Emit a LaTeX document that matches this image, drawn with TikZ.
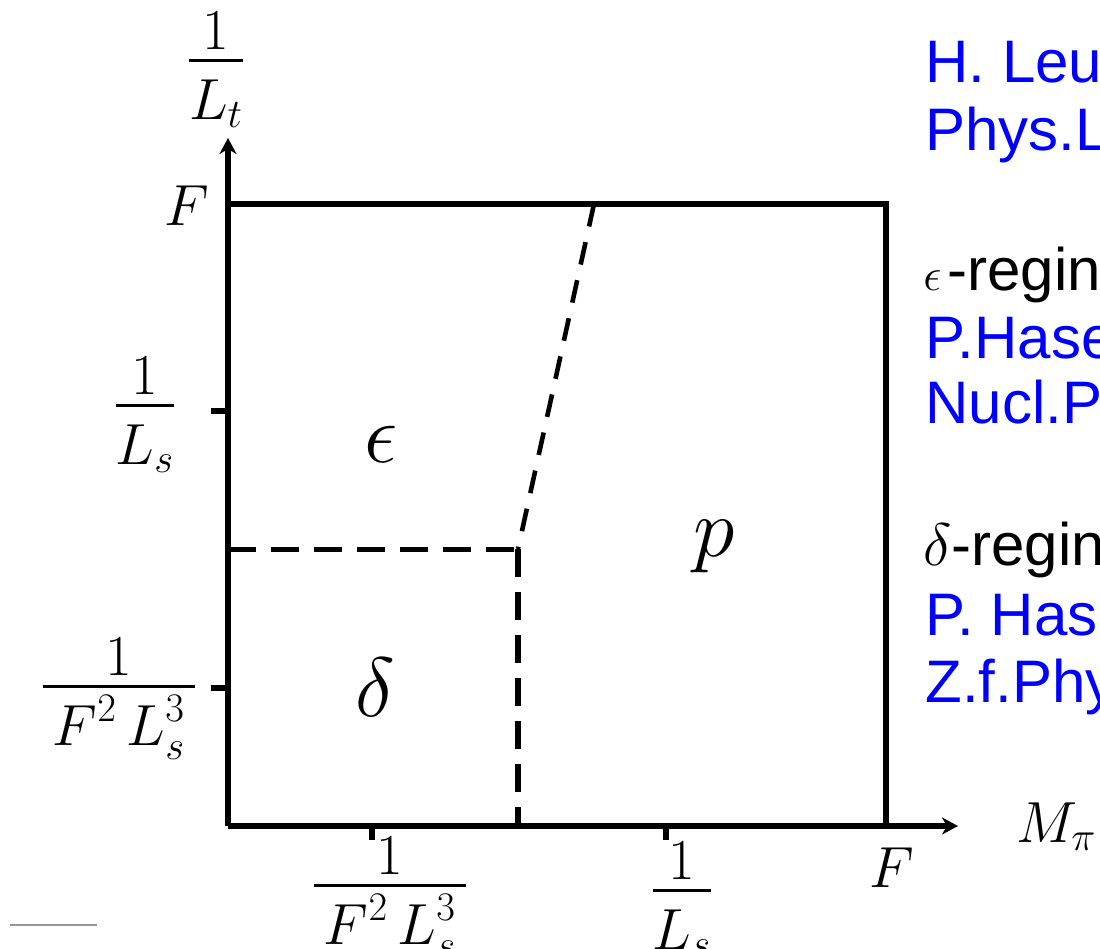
\RequirePackage{fix-cm}
\documentclass[tikz,border=0pt]{standalone}
\usepackage{fontspec}
\setsansfont{Liberation Sans}
\usetikzlibrary{arrows.meta}
\definecolor{refblue}{RGB}{0,0,255}
\definecolor{rulegray}{RGB}{150,150,150}
\newcommand{\axfrac}[2]{{{\displaystyle\raise1.3pt\hbox{$\displaystyle #1$}}\above 1.9pt{\displaystyle\rule{0pt}{26.4pt}#2}}}
\begin{document}
\begin{tikzpicture}[x=0.5pt,y=-0.5pt,
  mathlbl/.style={inner sep=0pt,font=\fontsize{29}{35}\selectfont},
  regionlbl/.style={inner sep=0pt,font=\fontsize{42}{50}\selectfont},
  reftext/.style={inner sep=0pt,anchor=base west,font=\fontsize{30}{36}\selectfont\sffamily},
  axisline/.style={line width=3pt,-{Stealth[length=8pt,width=8.5pt,inset=2.5pt]}},
  frameline/.style={line width=2.6pt},
  tickline/.style={line width=2.6pt},
  dashh/.style={line width=2.5pt,dash pattern=on 14pt off 7.5pt},
  dashv/.style={line width=3.4pt,dash pattern=on 14pt off 7.5pt},
  dashs/.style={line width=2.3pt,dash pattern=on 11.5pt off 8pt},
]
\useasboundingbox (0,0) rectangle (1100,949);
\clip (0,0) rectangle (1100,949);

% key points
\coordinate (O) at (228,826);
\coordinate (Ytip) at (228,138);
\coordinate (Xtip) at (958,826);
\coordinate (TL) at (228,204);
\coordinate (TR) at (886,204);
\coordinate (BR) at (886,826);
\coordinate (J) at (518,549);
\coordinate (JL) at (228,549);
\coordinate (JB) at (518,826);
\coordinate (JT) at (594,204);
% ticks
\coordinate (ty1a) at (211,411); \coordinate (ty1b) at (228,411);
\coordinate (ty2a) at (211,688); \coordinate (ty2b) at (228,688);
\coordinate (tx1a) at (372,826); \coordinate (tx1b) at (372,840);
\coordinate (tx2a) at (666,826); \coordinate (tx2b) at (666,840);
% gray rule
\coordinate (g1) at (10,925); \coordinate (g2) at (97,925);

% axes and frame
\draw[frameline] (TL) -- (TR) -- (BR);
\draw[axisline] (O) -- (Ytip);
\draw[axisline] (O) -- (Xtip);
\draw[tickline] (ty1a) -- (ty1b);
\draw[tickline] (ty2a) -- (ty2b);
\draw[tickline] (tx1a) -- (tx1b);
\draw[tickline] (tx2a) -- (tx2b);

% region boundaries
\draw[dashh] (JL) -- (J);
\draw[dashv] (J) -- (JB);
\draw[dashs] (JT) -- (J);

\draw[rulegray,line width=1pt] (g1) -- (g2);

% axis labels
\node[mathlbl,anchor=base] (lt) at (216,75) {$\axfrac{1}{L_t}$};
\node[mathlbl,anchor=base east] (fy) at (210,225) {$F$};
\node[mathlbl,anchor=base] (lsy) at (145,420) {$\axfrac{1}{L_s}$};
\node[mathlbl,anchor=base] (fly) at (119,701) {$\axfrac{1}{\,F^2\,L_s^3\,}$};
\node[mathlbl,anchor=base] (flx) at (390,900) {$\axfrac{1}{\,F^2\,L_s^3\,}$};
\node[mathlbl,anchor=base] (lsx) at (682,905) {$\axfrac{1}{L_s}$};
\node[mathlbl,anchor=base] (fx) at (892,887) {$F$};
\node[mathlbl,anchor=base west] (mpi) at (1016,842) {$M_\pi$};

% region labels
\node[regionlbl] (eps) at (381,444) {$\epsilon$};
\node[regionlbl] (preg) at (714,547) {$p$};
\node[regionlbl] (del) at (375,687) {$\delta$};

% references
\node[reftext,refblue] (r1) at (925,82) {H. Leu};
\node[reftext,refblue] (r2) at (925,150) {Phys.L};
\node[reftext] (r3) at (923,290) {{\fontsize{23}{28}\selectfont$\epsilon$}\kern3pt-regin};
\node[reftext,refblue] (r4) at (925,358) {P.Hase};
\node[reftext,refblue] (r5) at (925,423) {Nucl.P};
\node[reftext] (r6) at (923,565) {$\delta$-regin};
\node[reftext,refblue] (r7) at (925,635) {P. Has};
\node[reftext,refblue] (r8) at (925,702) {Z.f.Phy};
\end{tikzpicture}
\end{document}
